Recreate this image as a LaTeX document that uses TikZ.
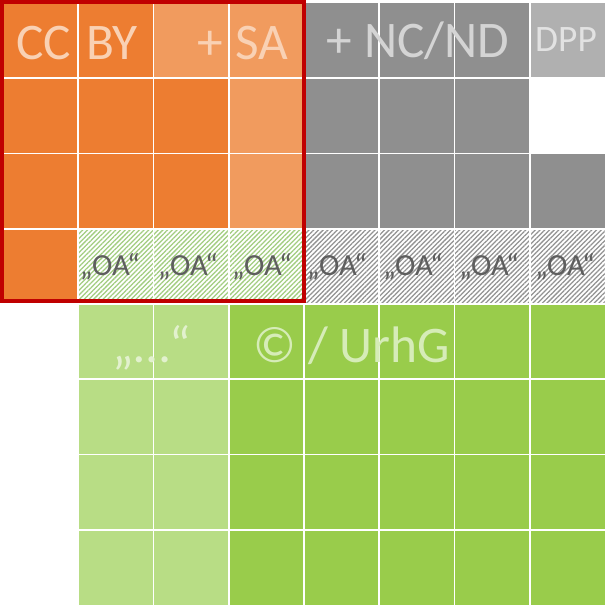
\documentclass[tikz,border=0pt]{standalone}
\usepackage{fontspec}
\setmainfont{Carlito}
\usetikzlibrary{patterns.meta}
\definecolor{orD}{HTML}{ED7D31}
\definecolor{orL}{HTML}{F19B5E}
\definecolor{grD}{HTML}{8F8F8F}
\definecolor{grL}{HTML}{B0B0B0}
\definecolor{gnL}{HTML}{B8DD85}
\definecolor{gnD}{HTML}{99CC4B}
\definecolor{hatchG}{HTML}{A2CD80}
\definecolor{hatchY}{HTML}{929292}
\definecolor{bordR}{HTML}{C00000}
\definecolor{txO}{HTML}{F9D1B4}
\definecolor{txY}{HTML}{D4D4D4}
\definecolor{txP}{HTML}{E2E2E2}
\definecolor{txG}{HTML}{D6ECB8}
\definecolor{txGL}{HTML}{E2F1CE}
\definecolor{txOA}{HTML}{5E5E5E}
\newcommand\mycell[3]{\fill[#3] ({3+75.25*#1},{3+75.25*#2}) rectangle ++(75.25,75.25);}
\newcommand\myhatch[3]{\fill[white] ({3+75.25*#1},{3+75.25*#2}) rectangle ++(75.25,75.25);
  \fill[pattern={Lines[angle=45,distance=2.5pt,line width=0.95pt]},pattern color=#3] ({3+75.25*#1},{3+75.25*#2}) rectangle ++(75.25,75.25);}
\begin{document}
\begin{tikzpicture}[x=0.75pt,y=-0.75pt,
  bigtxt/.style={anchor=base,inner sep=0pt,font=\fontsize{38.5}{40}\selectfont},
  midtxt/.style={anchor=base,inner sep=0pt,font=\fontsize{28}{30}\selectfont},
  oatxt/.style={anchor=base,inner sep=0pt,font=\fontsize{23}{25}\selectfont,text=txOA}]
\useasboundingbox (0,0) rectangle (605,605);
\fill[white] (0,0) rectangle (605,605);
% row 0
\mycell{0}{0}{orD}\mycell{1}{0}{orD}\mycell{2}{0}{orL}\mycell{3}{0}{orL}
\mycell{4}{0}{grD}\mycell{5}{0}{grD}\mycell{6}{0}{grD}\mycell{7}{0}{grL}
% row 1
\mycell{0}{1}{orD}\mycell{1}{1}{orD}\mycell{2}{1}{orD}\mycell{3}{1}{orL}
\mycell{4}{1}{grD}\mycell{5}{1}{grD}\mycell{6}{1}{grD}
% row 2
\mycell{0}{2}{orD}\mycell{1}{2}{orD}\mycell{2}{2}{orD}\mycell{3}{2}{orL}
\mycell{4}{2}{grD}\mycell{5}{2}{grD}\mycell{6}{2}{grD}\mycell{7}{2}{grD}
% row 3
\mycell{0}{3}{orD}
\myhatch{1}{3}{hatchG}\myhatch{2}{3}{hatchG}\myhatch{3}{3}{hatchG}
\myhatch{4}{3}{hatchY}\myhatch{5}{3}{hatchY}\myhatch{6}{3}{hatchY}\myhatch{7}{3}{hatchY}
% rows 4-7
\foreach \r in {4,...,7}{
  \mycell{1}{\r}{gnL}\mycell{2}{\r}{gnL}
  \foreach \c in {3,...,7}{\mycell{\c}{\r}{gnD}}
}
% grid lines
\foreach \k in {1,...,7}{
  \draw[white,line width=1.4pt] ({3+75.25*\k},3) -- ({3+75.25*\k},605);
  \draw[white,line width=1.4pt] (3,{3+75.25*\k}) -- (605,{3+75.25*\k});
}
% red border
\draw[bordR,line width=2.5pt] (2,2) rectangle (304,301);
% texts
\node[bigtxt,text=txO] (cc) at (44,60) {CC};
\node[bigtxt,text=txO] (by) at (112,60) {BY};
\node[bigtxt,text=txO] (plus) at (210,60) {+};
\node[bigtxt,text=txO] (sa) at (262,60) {SA};
\node[bigtxt,text=txY] (ncnd) at (418,58) {+ NC/ND};
\node[midtxt,text=txP] (dpp) at (566,52) {DPP};
\node[oatxt] (oa1) at (110,276) {„OA“};
\node[oatxt] (oa2) at (188,276) {„OA“};
\node[oatxt] (oa3) at (262,276) {„OA“};
\node[oatxt] (oa4) at (337,276) {„OA“};
\node[oatxt] (oa5) at (413,276) {„OA“};
\node[oatxt] (oa6) at (489,276) {„OA“};
\node[oatxt] (oa7) at (565,276) {„OA“};
\node[bigtxt,text=txGL] (dots) at (152,362) {„…“};
\node[bigtxt,text=txG] (urhg) at (352,362) {© / UrhG};
\end{tikzpicture}
\end{document}
